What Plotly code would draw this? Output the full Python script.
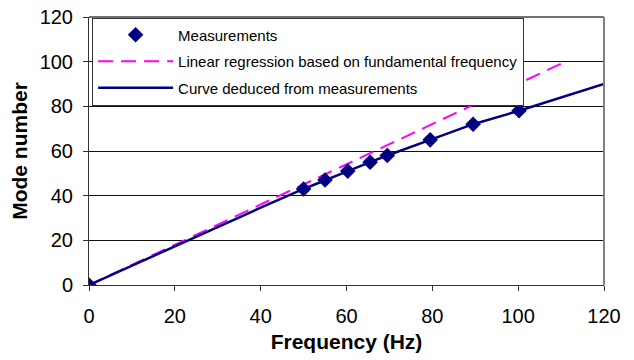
import plotly.graph_objects as go

# Measured modes
meas_freq = [0, 50, 55, 60.3, 65.5, 69.5, 79.5, 89.5, 100.2]
meas_mode = [0, 43, 47, 51, 55, 58, 65, 72, 78]

# Linear regression from the fundamental frequency
reg_freq = [0, 111]
reg_mode = [0, 100]

# Curve deduced from the measurements
curve_freq = [0, 10, 20, 30, 40, 50, 55, 60.3, 65.5, 69.5, 79.5, 89.5, 100.2, 110, 120]
curve_mode = [0, 8.7, 17.4, 26.0, 34.6, 43, 47, 51, 55, 58, 65, 72, 78, 84, 90]

x_ticks = [0, 20, 40, 60, 80, 100, 120]
y_ticks = [0, 20, 40, 60, 80, 100, 120]

NAVY = "#000080"
MAGENTA = "#FF00FF"
FONT = "Liberation Sans, Arial, sans-serif"

fig = go.Figure()

fig.add_trace(go.Scatter(
    x=reg_freq, y=reg_mode, mode="lines",
    name="Linear regression based on fundamental frequency",
    line=dict(color=MAGENTA, width=2, dash="15px,8px"),
    legendgroup="reg", legendrank=2,
))
fig.add_trace(go.Scatter(
    x=curve_freq, y=curve_mode, mode="lines",
    name="Curve deduced from measurements",
    line=dict(color=NAVY, width=2.5),
    legendgroup="curve", legendrank=3,
))
# markers drawn last so they sit on top of the curve
fig.add_trace(go.Scatter(
    x=meas_freq, y=meas_mode, mode="markers", name="Measurements",
    marker=dict(symbol="diamond", size=12, color=NAVY),
    legendgroup="meas", legendrank=1,
))

fig.update_layout(
    width=634, height=360,
    margin=dict(l=89, r=30, t=17, b=75),
    paper_bgcolor="white", plot_bgcolor="white",
    font=dict(family=FONT, color="black"),
    showlegend=True,
    legend=dict(
        x=0.006, y=0.998, xanchor="left", yanchor="top",
        bgcolor="white", bordercolor="#333333", borderwidth=1,
        font=dict(family=FONT, size=15, color="black"),
        traceorder="grouped", tracegroupgap=4,
        itemwidth=75,
    ),
    xaxis=dict(
        range=[0, 120], tickvals=x_ticks, ticks="outside", ticklen=5,
        tickcolor="#333333", showgrid=False, zeroline=False,
        showline=True, linecolor="#333333", linewidth=1, mirror=False,
        tickfont=dict(family=FONT, size=20), ticklabelstandoff=8,
        automargin=False,
        title=dict(text="<b>Frequency (Hz)</b>", font=dict(family=FONT, size=21), standoff=8),
    ),
    yaxis=dict(
        range=[0, 120], tickvals=y_ticks, ticks="outside", ticklen=5,
        tickcolor="#333333", showgrid=True, gridcolor="#111111", gridwidth=1,
        zeroline=False, showline=True, linecolor="#333333", linewidth=1,
        tickfont=dict(family=FONT, size=20), ticklabelstandoff=6,
        automargin=False,
        title=dict(text="<b>Mode number</b>", font=dict(family=FONT, size=21), standoff=6),
    ),
)

# gray frame on the top and right of the plot area
fig.add_shape(type="line", xref="paper", yref="paper", x0=0, x1=1, y0=1, y1=1,
              line=dict(color="#444444", width=1.5))
fig.add_shape(type="line", xref="paper", yref="paper", x0=1, x1=1, y0=0, y1=1,
              line=dict(color="#808080", width=2))

fig.write_html("out.html")
